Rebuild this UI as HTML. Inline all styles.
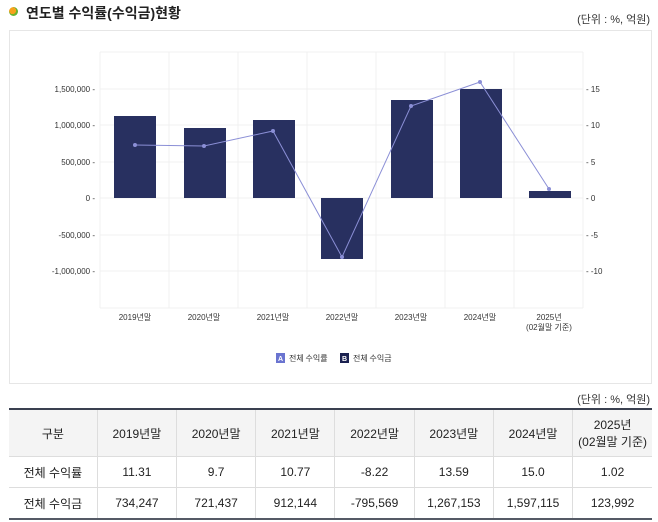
<!DOCTYPE html>
<html><head><meta charset="utf-8"><style>
body{margin:0;width:658px;height:522px;background:#fff;font-family:"Liberation Sans","Noto Sans CJK KR",sans-serif;position:relative;overflow:hidden;color:#222}
.t{position:absolute;left:26px;top:3px;font-size:14px;font-weight:bold;color:#222}
.dot{position:absolute;left:9px;top:7px;width:9px;height:9px;border-radius:50%;background:radial-gradient(circle at 40% 40%,#f7a21b 0 45%,#6bb32e 46%)}
.u{position:absolute;right:8px;font-size:11px;color:#333}
table{position:absolute;left:9px;top:408px;width:643px;border-collapse:collapse;font-size:12px;text-align:center}
td{border-left:1px solid #ddd;border-bottom:1px solid #ddd;padding:0}
td:first-child{border-left:none}
tr.h td{background:#f4f4f4;height:46px}
tr.r td{height:30px}
</style></head><body>
<div class="dot"></div><div class="t">연도별 수익률(수익금)현황</div>
<div class="u" style="top:11px">(단위 : %, 억원)</div>
<svg style="position:absolute;left:0;top:0" width="658" height="400">
<rect x="9.5" y="30.5" width="642" height="353" fill="#fff" stroke="#e6e6e6"/>
<g stroke="#f0f0f0">
<line x1="100" y1="52" x2="583" y2="52"/>
<line x1="100" y1="89" x2="583" y2="89"/><line x1="100" y1="125" x2="583" y2="125"/><line x1="100" y1="162" x2="583" y2="162"/><line x1="100" y1="198" x2="583" y2="198"/><line x1="100" y1="235" x2="583" y2="235"/><line x1="100" y1="271" x2="583" y2="271"/><line x1="100" y1="308" x2="583" y2="308"/>
<line x1="100" y1="52" x2="100" y2="308"/><line x1="169" y1="52" x2="169" y2="308"/><line x1="238" y1="52" x2="238" y2="308"/><line x1="307" y1="52" x2="307" y2="308"/><line x1="376" y1="52" x2="376" y2="308"/><line x1="445" y1="52" x2="445" y2="308"/><line x1="514" y1="52" x2="514" y2="308"/><line x1="583" y1="52" x2="583" y2="308"/>
</g>
<g fill="#283060">
<rect x="114" y="116" width="42" height="82"/><rect x="184" y="128" width="42" height="70"/><rect x="253" y="120" width="42" height="78"/><rect x="321" y="198" width="42" height="61"/><rect x="391" y="100" width="42" height="98"/><rect x="460" y="89" width="42" height="109"/><rect x="529" y="191" width="42" height="7"/>
</g>
<polyline points="135,145 204,146 273,131 342,257 411,106 480,82 549,189" fill="none" stroke="#8b8fd6" stroke-width="1"/>
<g fill="#8b8fd6"><circle cx="135" cy="145" r="2"/><circle cx="204" cy="146" r="2"/><circle cx="273" cy="131" r="2"/><circle cx="342" cy="257" r="2"/><circle cx="411" cy="106" r="2"/><circle cx="480" cy="82" r="2"/><circle cx="549" cy="189" r="2"/></g>
<g font-size="8" fill="#333" text-anchor="end" font-family="Liberation Sans,sans-serif">
<text x="95" y="92">1,500,000 -</text><text x="95" y="128">1,000,000 -</text><text x="95" y="165">500,000 -</text><text x="95" y="201">0 -</text><text x="95" y="238">-500,000 -</text><text x="95" y="274">-1,000,000 -</text>
</g>
<g font-size="8" fill="#333" font-family="Liberation Sans,sans-serif">
<text x="586" y="92">- 15</text><text x="586" y="128">- 10</text><text x="586" y="165">- 5</text><text x="586" y="201">- 0</text><text x="586" y="238">- -5</text><text x="586" y="274">- -10</text>
</g>
<g font-size="8" fill="#333" text-anchor="middle" font-family="Liberation Sans,Noto Sans CJK KR,sans-serif">
<text x="135" y="320">2019년말</text><text x="204" y="320">2020년말</text><text x="273" y="320">2021년말</text><text x="342" y="320">2022년말</text><text x="411" y="320">2023년말</text><text x="480" y="320">2024년말</text><text x="549" y="320">2025년</text><text x="549" y="330">(02월말 기준)</text>
</g>
<rect x="276" y="353" width="9" height="10" fill="#6a74d0"/><text x="280.5" y="361" font-size="7" fill="#fff" text-anchor="middle" font-weight="bold">A</text>
<text x="289" y="361" font-size="8" fill="#333" font-family="Noto Sans CJK KR,sans-serif">전체 수익률</text>
<rect x="340" y="353" width="9" height="10" fill="#1b2150"/><text x="344.5" y="361" font-size="7" fill="#fff" text-anchor="middle" font-weight="bold">B</text>
<text x="353" y="361" font-size="8" fill="#333" font-family="Noto Sans CJK KR,sans-serif">전체 수익금</text>
</svg>
<div class="u" style="top:391px">(단위 : %, 억원)</div>
<table style="border-top:2px solid #3a4050;border-bottom:2px solid #555a66">
<colgroup><col style="width:88px"><col span="7" style="width:79px"></colgroup>
<tr class="h"><td>구분</td><td>2019년말</td><td>2020년말</td><td>2021년말</td><td>2022년말</td><td>2023년말</td><td>2024년말</td><td>2025년<br>(02월말 기준)</td></tr>
<tr class="r"><td>전체 수익률</td><td>11.31</td><td>9.7</td><td>10.77</td><td>-8.22</td><td>13.59</td><td>15.0</td><td>1.02</td></tr>
<tr class="r"><td>전체 수익금</td><td>734,247</td><td>721,437</td><td>912,144</td><td>-795,569</td><td>1,267,153</td><td>1,597,115</td><td>123,992</td></tr>
</table>
</body></html>
